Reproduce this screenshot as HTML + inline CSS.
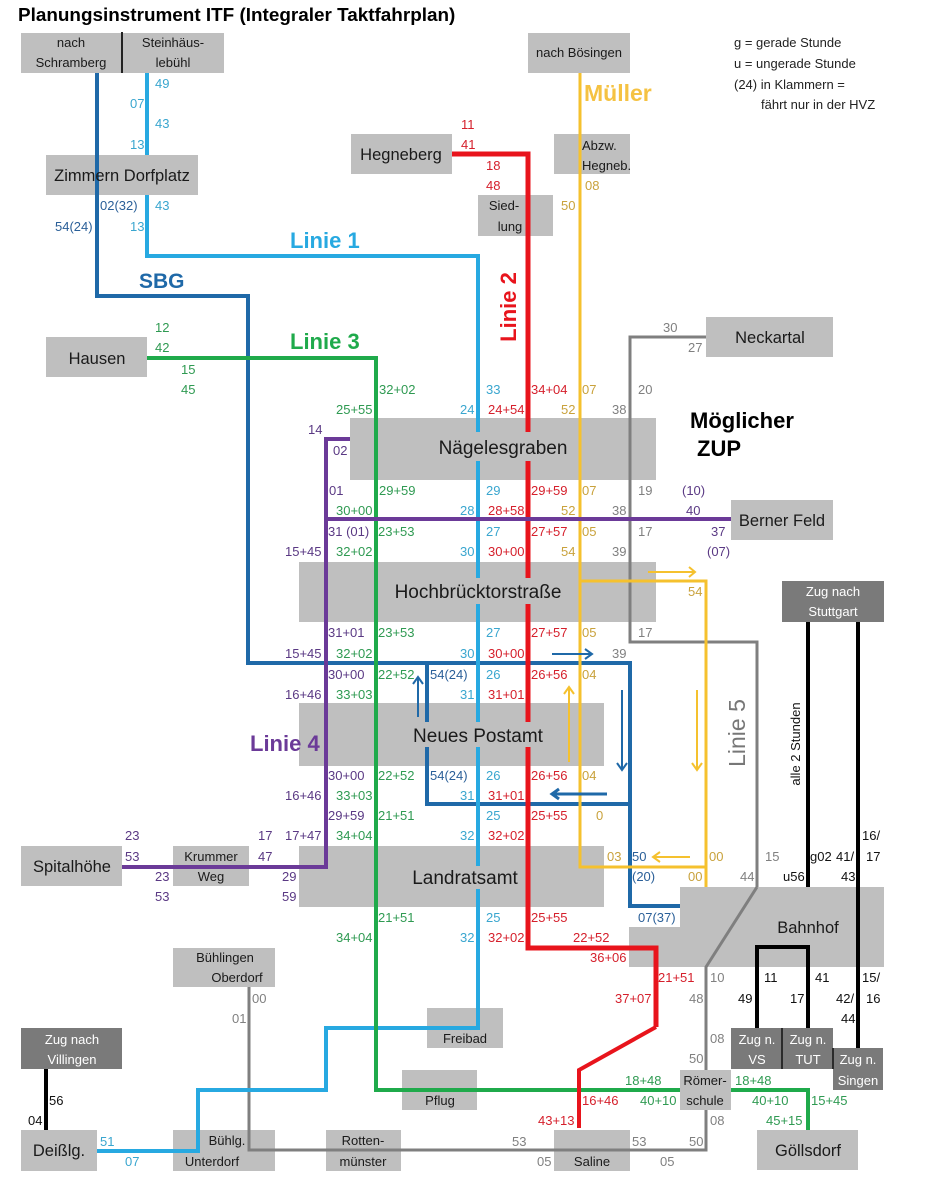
<!DOCTYPE html>
<html><head><meta charset="utf-8"><style>
html,body{margin:0;padding:0;background:#fff;}
svg{display:block;}
text{font-family:"Liberation Sans",Arial,sans-serif;}
.l{font-size:13px;}
.G{fill:#2f9a52;}.B{fill:#3aa6cf;}.D{fill:#2a5f98;}.R{fill:#d51f2b;}.Y{fill:#c9a23c;}.P{fill:#5a3984;}.K{fill:#808080;}.N{fill:#111;}
.bx{fill:#bfbfbf;}.dk{fill:#7a7a7a;}
.st{fill:#1a1a1a;text-anchor:middle;}
.wt{fill:#fff;text-anchor:middle;font-size:13px;}
</style></head><body>
<svg width="936" height="1200" viewBox="0 0 936 1200" xmlns="http://www.w3.org/2000/svg">
<rect width="936" height="1200" fill="#fff"/>
<!-- title -->
<text x="18" y="21" font-size="18.9" font-weight="bold" fill="#000">Planungsinstrument ITF (Integraler Taktfahrplan)</text>

<!-- boxes (under lines) -->
<rect class="bx" x="21" y="33" width="101" height="40"/>
<rect class="bx" x="123" y="33" width="101" height="40"/>
<rect class="bx" x="46" y="155" width="152" height="40"/>
<rect class="bx" x="46" y="337" width="101" height="40"/>
<rect class="bx" x="351" y="134" width="101" height="40"/>
<rect class="bx" x="528" y="33" width="102" height="40"/>
<rect class="bx" x="554" y="134" width="76" height="40"/>
<rect class="bx" x="478" y="195" width="75" height="41"/>
<rect class="bx" x="706" y="317" width="127" height="40"/>
<rect class="bx" x="350" y="418" width="306" height="62"/>
<rect class="bx" x="731" y="500" width="102" height="40"/>
<rect class="bx" x="299" y="562" width="357" height="60"/>
<rect class="dk" x="782" y="581" width="102" height="41"/>
<rect class="bx" x="299" y="703" width="305" height="63"/>
<rect class="bx" x="21" y="846" width="101" height="40"/>
<rect class="bx" x="173" y="846" width="76" height="40"/>
<rect class="bx" x="299" y="846" width="305" height="61"/>
<rect class="bx" x="680" y="887" width="204" height="80"/>
<rect class="bx" x="629" y="927" width="52" height="40"/>
<rect class="bx" x="173" y="948" width="102" height="39"/>
<rect class="bx" x="427" y="1008" width="76" height="40"/>
<rect class="dk" x="21" y="1028" width="101" height="41"/>
<rect class="bx" x="402" y="1070" width="75" height="40"/>
<rect class="bx" x="21" y="1130" width="76" height="41"/>
<rect class="bx" x="173" y="1130" width="102" height="41"/>
<rect class="bx" x="326" y="1130" width="75" height="41"/>
<rect class="bx" x="554" y="1130" width="76" height="41"/>
<rect class="bx" x="757" y="1130" width="101" height="40"/>

<!-- lines -->
<g fill="none" stroke-linejoin="miter" stroke-linecap="butt">
<line x1="122" y1="32" x2="122" y2="73" stroke="#222" stroke-width="2"/>
<!-- gray Linie 5 -->
<polyline points="706,337 630,337 630,642 757,642 757,887" stroke="#7f7f7f" stroke-width="3"/>
<polyline points="757,887 706,967 706,1150 249,1150 249,987" stroke="#7f7f7f" stroke-width="3"/>
<!-- SBG -->
<polyline points="97,73 97,296 248,296 248,663 630,663 630,906 680,906" stroke="#1f69a8" stroke-width="4"/>
<polyline points="427,663 427,804 630,804" stroke="#1f69a8" stroke-width="4"/>
<!-- Linie 1 -->
<line x1="147" y1="73" x2="147" y2="155" stroke="#27a9e1" stroke-width="4"/>
<polyline points="147,195 147,256 478,256 478,1028 326,1028 326,1090 198,1090 198,1151 97,1151" stroke="#27a9e1" stroke-width="4"/>
<!-- Linie 3 -->
<polyline points="147,358 376,358 376,1090 808,1090 808,1130" stroke="#1faa4b" stroke-width="4"/>
<!-- Linie 2 -->
<polyline points="452,154 528,154 528,948 656,948 656,1027" stroke="#e8141c" stroke-width="5"/>
<polyline points="656,1027 579,1070 579,1128" stroke="#e8141c" stroke-width="4"/>
<!-- Müller -->
<polyline points="580,73 580,867 706,867" stroke="#f5c12e" stroke-width="3"/>
<polyline points="580,581 706,581 706,887" stroke="#f5c12e" stroke-width="3"/>
<!-- Linie 4 -->
<polyline points="350,439 326,439 326,867 122,867" stroke="#6b3a98" stroke-width="4"/>
<line x1="326" y1="519" x2="731" y2="519" stroke="#6b3a98" stroke-width="4"/>
<!-- black train lines -->
<line x1="808" y1="622" x2="808" y2="887" stroke="#000" stroke-width="4"/>
<line x1="858" y1="622" x2="858" y2="1048" stroke="#000" stroke-width="4"/>
<polyline points="757,1028 757,947 808,947 808,1028" stroke="#000" stroke-width="4"/>
<line x1="46" y1="1069" x2="46" y2="1130" stroke="#000" stroke-width="4"/>
<!-- arrows -->
<g stroke="#f5c12e" stroke-width="2">
<path d="M648,572 L695,572 M689,567 L695,572 L689,577"/>
<path d="M569,762 L569,687 M564,694 L569,687 L574,694"/>
<path d="M697,690 L697,770 M692,763 L697,770 L702,763"/>
<path d="M690,857 L653,857 M660,852 L653,857 L660,862"/>
</g>
<g stroke="#1f69a8" stroke-width="2">
<path d="M552,654 L592,654 M585,649 L592,654 L585,659"/>
<path d="M418,717 L418,677 M413,684 L418,677 L423,684"/>
<path d="M622,690 L622,770 M617,763 L622,770 L627,763"/>
<path d="M607,794 L552,794 M559,789 L552,794 L559,799" stroke-width="3"/>
</g>
</g>

<!-- boxes on top of lines -->
<rect class="bx" x="680" y="1070" width="51" height="40"/>
<rect class="dk" x="731" y="1028" width="51" height="41"/>
<rect class="dk" x="782" y="1028" width="51" height="41"/>
<rect class="dk" x="833" y="1048" width="50" height="42"/>
<line x1="782" y1="1028" x2="782" y2="1069" stroke="#111" stroke-width="1.5"/>
<line x1="833" y1="1048" x2="833" y2="1069" stroke="#111" stroke-width="1.5"/>
<!-- label backgrounds covering lines -->
<rect class="bx" x="430" y="432" width="144" height="29"/>
<rect class="bx" x="386" y="578" width="184" height="26"/>
<rect class="bx" x="408" y="722" width="140" height="25"/>
<rect class="bx" x="405" y="866" width="119" height="23"/>

<!-- station texts -->
<g font-size="13" class="st">
<text x="71" y="47" class="st">nach</text>
<text x="71" y="67" class="st">Schramberg</text>
<text x="173" y="47" class="st">Steinhäus-</text>
<text x="173" y="67" class="st">lebühl</text>
<text x="579" y="57" class="st">nach Bösingen</text>
<text x="504" y="210" class="st">Sied-</text>
<text x="510" y="231" class="st">lung</text>
<text x="211" y="861" class="st">Krummer</text>
<text x="211" y="881" class="st">Weg</text>
<text x="225" y="962" class="st">Bühlingen</text>
<text x="237" y="982" class="st">Oberdorf</text>
<text x="465" y="1043" class="st">Freibad</text>
<text x="440" y="1105" class="st">Pflug</text>
<text x="705" y="1085" class="st">Römer-</text>
<text x="705" y="1105" class="st">schule</text>
<text x="227" y="1145" class="st">Bühlg.</text>
<text x="212" y="1166" class="st">Unterdorf</text>
<text x="363" y="1145" class="st">Rotten-</text>
<text x="363" y="1166" class="st">münster</text>
<text x="592" y="1166" class="st">Saline</text>
</g>
<text x="582" y="150" font-size="13" fill="#1a1a1a">Abzw.</text>
<text x="582" y="170" font-size="13" fill="#1a1a1a">Hegneb.</text>
<g font-size="16.5">
<text x="122" y="181" class="st">Zimmern Dorfplatz</text>
<text x="97" y="364" class="st">Hausen</text>
<text x="401" y="160" class="st">Hegneberg</text>
<text x="770" y="343" class="st">Neckartal</text>
<text x="782" y="526" class="st">Berner Feld</text>
<text x="72" y="872" class="st">Spitalhöhe</text>
<text x="808" y="933" class="st">Bahnhof</text>
<text x="59" y="1156" class="st">Deißlg.</text>
<text x="808" y="1156" class="st">Göllsdorf</text>
</g>
<g font-size="19">
<text x="503" y="454" class="st">Nägelesgraben</text>
<text x="478" y="598" class="st">Hochbrücktorstraße</text>
<text x="478" y="742" class="st">Neues Postamt</text>
<text x="465" y="884" class="st">Landratsamt</text>
</g>
<text x="833" y="596" class="wt">Zug nach</text>
<text x="833" y="616" class="wt">Stuttgart</text>
<text x="72" y="1044" class="wt">Zug nach</text>
<text x="72" y="1064" class="wt">Villingen</text>
<text x="757" y="1044" class="wt">Zug n.</text>
<text x="757" y="1064" class="wt">VS</text>
<text x="808" y="1044" class="wt">Zug n.</text>
<text x="808" y="1064" class="wt">TUT</text>
<text x="858" y="1064" class="wt">Zug n.</text>
<text x="858" y="1085" class="wt">Singen</text>

<!-- legend -->
<g font-size="13" fill="#222">
<text x="734" y="47">g = gerade Stunde</text>
<text x="734" y="68">u = ungerade Stunde</text>
<text x="734" y="89">(24) in Klammern =</text>
<text x="761" y="109">fährt nur in der HVZ</text>
</g>

<!-- line names -->
<g font-weight="bold">
<text x="290" y="248" font-size="22" fill="#27a9e1">Linie 1</text>
<text x="139" y="288" font-size="21" fill="#1f69a8">SBG</text>
<text x="290" y="349" font-size="22" fill="#1faa4b">Linie 3</text>
<text x="584" y="101" font-size="23" fill="#f5c242">Müller</text>
<text x="690" y="428" font-size="22" fill="#000">Möglicher</text>
<text x="697" y="456" font-size="22" fill="#000">ZUP</text>
<text x="250" y="751" font-size="22" fill="#6b3a98">Linie 4</text>
<text transform="translate(516,307) rotate(-90)" text-anchor="middle" font-size="22" fill="#e8141c">Linie 2</text>
</g>
<text transform="translate(745,733) rotate(-90)" text-anchor="middle" font-size="23" fill="#777">Linie 5</text>
<text transform="translate(800,744) rotate(-90)" text-anchor="middle" font-size="13" fill="#111">alle 2 Stunden</text>

<!-- time labels -->
<g class="l">
<text x="155" y="88" class="B">49</text>
<text x="130" y="108" class="B">07</text>
<text x="155" y="128" class="B">43</text>
<text x="130" y="149" class="B">13</text>
<text x="100" y="210" class="D">02(32)</text>
<text x="155" y="210" class="B">43</text>
<text x="55" y="231" class="D">54(24)</text>
<text x="130" y="231" class="B">13</text>
<text x="461" y="129" class="R">11</text>
<text x="461" y="149" class="R">41</text>
<text x="486" y="170" class="R">18</text>
<text x="486" y="190" class="R">48</text>
<text x="585" y="190" class="Y">08</text>
<text x="561" y="210" class="Y">50</text>
<text x="663" y="332" class="K">30</text>
<text x="688" y="352" class="K">27</text>
<text x="155" y="332" class="G">12</text>
<text x="155" y="352" class="G">42</text>
<text x="181" y="374" class="G">15</text>
<text x="181" y="394" class="G">45</text>

<text x="379" y="394" class="G">32+02</text>
<text x="486" y="394" class="B">33</text>
<text x="531" y="394" class="R">34+04</text>
<text x="582" y="394" class="Y">07</text>
<text x="638" y="394" class="K">20</text>

<text x="336" y="414" class="G">25+55</text>
<text x="460" y="414" class="B">24</text>
<text x="488" y="414" class="R">24+54</text>
<text x="561" y="414" class="Y">52</text>
<text x="612" y="414" class="K">38</text>

<text x="308" y="434" class="P">14</text>
<text x="333" y="455" class="P">02</text>

<text x="329" y="495" class="P">01</text>
<text x="379" y="495" class="G">29+59</text>
<text x="486" y="495" class="B">29</text>
<text x="531" y="495" class="R">29+59</text>
<text x="582" y="495" class="Y">07</text>
<text x="638" y="495" class="K">19</text>
<text x="682" y="495" class="P">(10)</text>

<text x="336" y="515" class="G">30+00</text>
<text x="460" y="515" class="B">28</text>
<text x="488" y="515" class="R">28+58</text>
<text x="561" y="515" class="Y">52</text>
<text x="612" y="515" class="K">38</text>
<text x="686" y="515" class="P">40</text>

<text x="328" y="536" class="P">31 (01)</text>
<text x="378" y="536" class="G">23+53</text>
<text x="486" y="536" class="B">27</text>
<text x="531" y="536" class="R">27+57</text>
<text x="582" y="536" class="Y">05</text>
<text x="638" y="536" class="K">17</text>
<text x="711" y="536" class="P">37</text>

<text x="285" y="556" class="P">15+45</text>
<text x="336" y="556" class="G">32+02</text>
<text x="460" y="556" class="B">30</text>
<text x="488" y="556" class="R">30+00</text>
<text x="561" y="556" class="Y">54</text>
<text x="612" y="556" class="K">39</text>
<text x="707" y="556" class="P">(07)</text>

<text x="688" y="596" class="Y">54</text>

<text x="328" y="637" class="P">31+01</text>
<text x="378" y="637" class="G">23+53</text>
<text x="486" y="637" class="B">27</text>
<text x="531" y="637" class="R">27+57</text>
<text x="582" y="637" class="Y">05</text>
<text x="638" y="637" class="K">17</text>

<text x="285" y="658" class="P">15+45</text>
<text x="336" y="658" class="G">32+02</text>
<text x="460" y="658" class="B">30</text>
<text x="488" y="658" class="R">30+00</text>
<text x="612" y="658" class="K">39</text>

<text x="328" y="679" class="P">30+00</text>
<text x="378" y="679" class="G">22+52</text>
<text x="430" y="679" class="D">54(24)</text>
<text x="486" y="679" class="B">26</text>
<text x="531" y="679" class="R">26+56</text>
<text x="582" y="679" class="Y">04</text>

<text x="285" y="699" class="P">16+46</text>
<text x="336" y="699" class="G">33+03</text>
<text x="460" y="699" class="B">31</text>
<text x="488" y="699" class="R">31+01</text>

<text x="328" y="780" class="P">30+00</text>
<text x="378" y="780" class="G">22+52</text>
<text x="430" y="780" class="D">54(24)</text>
<text x="486" y="780" class="B">26</text>
<text x="531" y="780" class="R">26+56</text>
<text x="582" y="780" class="Y">04</text>

<text x="285" y="800" class="P">16+46</text>
<text x="336" y="800" class="G">33+03</text>
<text x="460" y="800" class="B">31</text>
<text x="488" y="800" class="R">31+01</text>

<text x="328" y="820" class="P">29+59</text>
<text x="378" y="820" class="G">21+51</text>
<text x="486" y="820" class="B">25</text>
<text x="531" y="820" class="R">25+55</text>
<text x="596" y="820" class="Y">0</text>

<text x="125" y="840" class="P">23</text>
<text x="258" y="840" class="P">17</text>
<text x="285" y="840" class="P">17+47</text>
<text x="336" y="840" class="G">34+04</text>
<text x="460" y="840" class="B">32</text>
<text x="488" y="840" class="R">32+02</text>
<text x="862" y="840" class="N">16/</text>

<text x="125" y="861" class="P">53</text>
<text x="258" y="861" class="P">47</text>
<text x="607" y="861" class="Y">03</text>
<text x="632" y="861" class="D">50</text>
<text x="709" y="861" class="Y">00</text>
<text x="765" y="861" class="K">15</text>
<text x="810" y="861" class="N">g02</text>
<text x="836" y="861" class="N">41/</text>
<text x="866" y="861" class="N">17</text>

<text x="155" y="881" class="P">23</text>
<text x="282" y="881" class="P">29</text>
<text x="632" y="881" class="D">(20)</text>
<text x="688" y="881" class="Y">00</text>
<text x="740" y="881" class="K">44</text>
<text x="783" y="881" class="N">u56</text>
<text x="841" y="881" class="N">43</text>

<text x="155" y="901" class="P">53</text>
<text x="282" y="901" class="P">59</text>

<text x="378" y="922" class="G">21+51</text>
<text x="486" y="922" class="B">25</text>
<text x="531" y="922" class="R">25+55</text>
<text x="638" y="922" class="D">07(37)</text>

<text x="336" y="942" class="G">34+04</text>
<text x="460" y="942" class="B">32</text>
<text x="488" y="942" class="R">32+02</text>
<text x="573" y="942" class="R">22+52</text>

<text x="590" y="962" class="R">36+06</text>

<text x="658" y="982" class="R">21+51</text>
<text x="710" y="982" class="K">10</text>
<text x="764" y="982" class="N">11</text>
<text x="815" y="982" class="N">41</text>
<text x="862" y="982" class="N">15/</text>

<text x="252" y="1003" class="K">00</text>
<text x="615" y="1003" class="R">37+07</text>
<text x="689" y="1003" class="K">48</text>
<text x="738" y="1003" class="N">49</text>
<text x="790" y="1003" class="N">17</text>
<text x="836" y="1003" class="N">42/</text>
<text x="866" y="1003" class="N">16</text>

<text x="232" y="1023" class="K">01</text>
<text x="841" y="1023" class="N">44</text>
<text x="710" y="1043" class="K">08</text>
<text x="689" y="1063" class="K">50</text>

<text x="625" y="1085" class="G">18+48</text>
<text x="735" y="1085" class="G">18+48</text>

<text x="49" y="1105" class="N">56</text>
<text x="582" y="1105" class="R">16+46</text>
<text x="640" y="1105" class="G">40+10</text>
<text x="752" y="1105" class="G">40+10</text>
<text x="811" y="1105" class="G">15+45</text>

<text x="28" y="1125" class="N">04</text>
<text x="538" y="1125" class="R">43+13</text>
<text x="710" y="1125" class="K">08</text>
<text x="766" y="1125" class="G">45+15</text>

<text x="100" y="1146" class="B">51</text>
<text x="512" y="1146" class="K">53</text>
<text x="632" y="1146" class="K">53</text>
<text x="689" y="1146" class="K">50</text>

<text x="125" y="1166" class="B">07</text>
<text x="537" y="1166" class="K">05</text>
<text x="660" y="1166" class="K">05</text>
</g>
</svg>
</body></html>
